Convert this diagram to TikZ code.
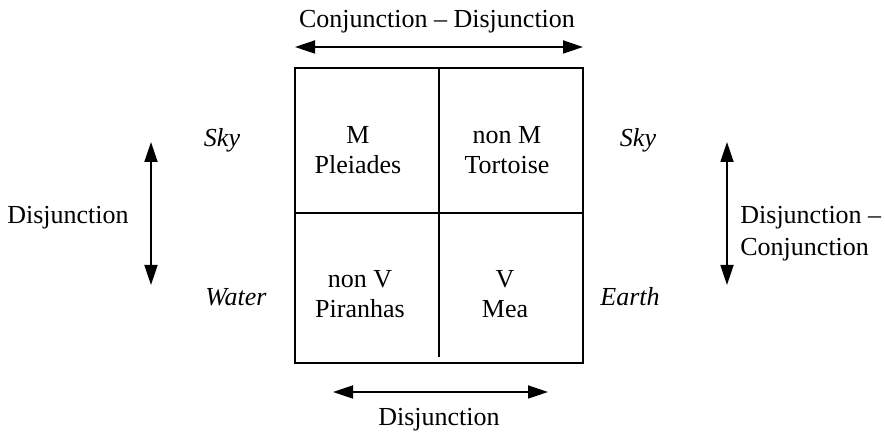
\documentclass[tikz,border=0pt]{standalone}
\usepackage{fontspec}
\setmainfont{Liberation Serif}
\usetikzlibrary{arrows.meta, positioning}
\tikzset{
  % Quadrant text
  cell/.style={
    align=center, inner sep=0pt,
    font=\fontsize{13pt}{15pt}\selectfont
  },
  % Italic region label
  region/.style={
    inner sep=0pt,
    font=\fontsize{13pt}{15pt}\selectfont\itshape
  },
  % Relation label
  rel/.style={
    inner sep=0pt,
    font=\fontsize{13pt}{16pt}\selectfont
  },
  % Double arrow
  twoway/.style={
    {Triangle[length=10pt,width=6.5pt]}-{Triangle[length=10pt,width=6.5pt]},
    line width=0.9pt, draw=black
  },
  % Box lines
  frame/.style={line width=0.9pt, draw=black}
}

\begin{document}
\begin{tikzpicture}[x=0.5pt, y=-0.5pt]
\useasboundingbox (0,0) rectangle (885,437);

% ── square and dividers ─────────────────────────────
\coordinate (box_nw) at (295,68);
\coordinate (box_se) at (583,363);
\draw[frame] (box_nw) rectangle (box_se);
\coordinate (mid_w) at (295,213);
\coordinate (mid_e) at (583,213);
\coordinate (mid_n) at (439,68);
\coordinate (mid_s) at (439,357);
\draw[frame] (mid_w) -- (mid_e);
\draw[frame] (mid_n) -- (mid_s);

% ── quadrants ───────────────────────────────────────
\node[cell] (pleiades) at (358,150) {M\\Pleiades};
\node[cell] (tortoise) at (507,150) {non M\\Tortoise};
\node[cell] (piranhas) at (360,294) {non V\\Piranhas};
\node[cell] (mea)      at (505,294) {V\\Mea};

% ── regions ─────────────────────────────────────────
\node[region] (sky_l)  at (222,140) {Sky};
\node[region] (water)  at (236,297) {Water};
\node[region] (sky_r)  at (638,140) {Sky};
\node[region] (earth)  at (630,297) {Earth};

% ── relations ───────────────────────────────────────
\coordinate (top_l) at (295,47);
\coordinate (top_r) at (583,47);
\node[rel] (conj_disj) at (437,22) {Conjunction – Disjunction};
\draw[twoway] (top_l) -- (top_r);

\coordinate (left_t) at (151,142);
\coordinate (left_b) at (151,285);
\node[rel] (disj_l) at (68,218) {Disjunction};
\draw[twoway] (left_t) -- (left_b);

\coordinate (right_t) at (727,142);
\coordinate (right_b) at (727,285);
\node[rel, align=left, anchor=west] (disj_conj) at (740,234)
  {Disjunction –\\Conjunction};
\draw[twoway] (right_t) -- (right_b);

\coordinate (bot_l) at (333,392);
\coordinate (bot_r) at (548,392);
\node[rel] (disj_b) at (439,420) {Disjunction};
\draw[twoway] (bot_l) -- (bot_r);

\end{tikzpicture}
\end{document}
